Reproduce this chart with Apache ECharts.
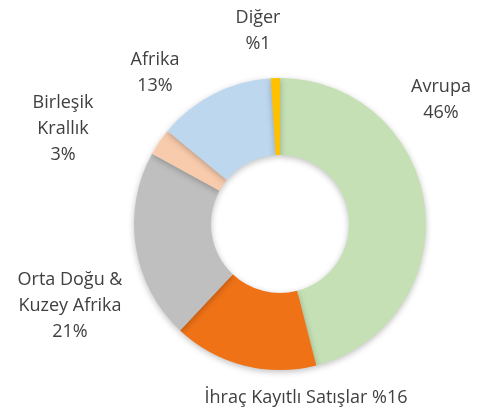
<!DOCTYPE html>
<html>
<head>
<meta charset="utf-8">
<script src="https://cdn.jsdelivr.net/npm/echarts@6/dist/echarts.min.js"></script>
<style>
  html, body { margin: 0; padding: 0; background: #fff; }
  #main { width: 498px; height: 410px; }
</style>
</head>
<body>
<div id="main"></div>
<script>
// slices, clockwise from the top
var names = ['Avrupa', 'İhraç Kayıtlı Satışlar', 'Orta Doğu & Kuzey Afrika', 'Birleşik Krallık', 'Afrika', 'Diğer'];
var values = [46, 16, 21, 3, 13, 1];
var labelTexts = ['Avrupa\n46%', 'İhraç Kayıtlı Satışlar %16', 'Orta Doğu &\nKuzey Afrika\n21%', 'Birleşik\nKrallık\n3%', 'Afrika\n13%', 'Diğer\n%1'];

var colors = ['#C5E0B4', '#EF7217', '#BFBFBF', '#F8CBAD', '#BDD7EE', '#FFC000'];
// where the label blocks sit (centre of each text block)
var labelPos = [[441, 100], [306, 398], [70, 306], [63, 129], [155, 73], [258, 31]];

var myChart = echarts.init(document.getElementById('main'));

var option = {
    animation: false,
    color: colors,
    series: [
        {
            type: 'pie',
            center: [280, 224],
            radius: [69, 146],
            startAngle: 90,
            clockwise: true,
            itemStyle: {
                shadowBlur: 6,
                shadowOffsetY: 2,
                shadowColor: 'rgba(0, 0, 0, 0.25)'
            },
            label: {
                show: true,
                position: 'outside',
                alignTo: 'none',
                overflow: 'none',
                color: '#404040',
                fontFamily: 'Open Sans',
                fontSize: 18,
                lineHeight: 26,
                align: 'center',
                formatter: function (p) { return labelTexts[p.dataIndex]; }
            },
            labelLine: { show: false },
            labelLayout: function (p) {
                return {
                    x: labelPos[p.dataIndex][0],
                    y: labelPos[p.dataIndex][1],
                    align: 'center',
                    verticalAlign: 'middle'
                };
            },
            data: names.map(function (n, i) { return { name: n, value: values[i] }; })
        }
    ]
};
myChart.setOption(option);
</script>
</body>
</html>
